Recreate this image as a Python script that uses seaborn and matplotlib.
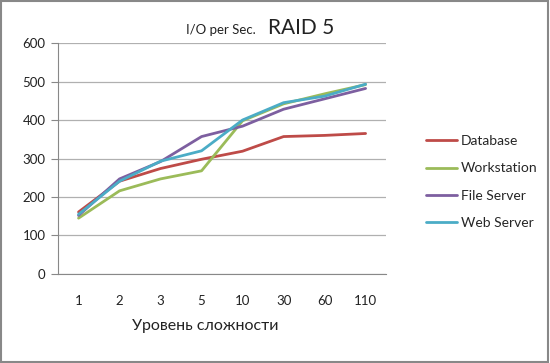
import matplotlib
matplotlib.use("Agg")
import matplotlib.pyplot as plt
import seaborn as sns
import pandas as pd
from matplotlib.lines import Line2D
from matplotlib.patches import Rectangle

levels = ["1", "2", "3", "5", "10", "30", "60", "110"]
database = [161, 241, 274, 298, 319, 357, 360, 365]
workstation = [145, 216, 247, 268, 398, 442, 468, 492]
file_server = [152, 247, 292, 357, 384, 428, 455, 482]
web_server = [155, 241, 293, 320, 400, 445, 462, 493]
series_names = ["Database", "Workstation", "File Server", "Web Server"]
colors = ["#BE4B48", "#9BBB59", "#7D5FA0", "#4BACC6"]

rows = []
for name, vals in zip(series_names, [database, workstation, file_server, web_server]):
    for i, (lv, v) in enumerate(zip(levels, vals)):
        rows.append({"pos": i, "level": lv, "value": v, "series": name})
df = pd.DataFrame(rows)

sns.set_style("white")
plt.rcParams["font.family"] = ["Lato", "DejaVu Sans"]

fig = plt.figure(figsize=(5.5, 3.63), dpi=100)
ax = fig.add_axes([0.1055, 0.2452, 0.5965, 0.6363])

sns.lineplot(data=df, x="pos", y="value", hue="series", hue_order=series_names,
             palette=colors, linewidth=2.0, ax=ax, legend=False, sort=False)

ax.set_xlim(-0.5, 7.5)
ax.set_ylim(0, 600)
ax.set_yticks(range(0, 601, 100))
ax.yaxis.grid(True, color="#B0B0B0", linewidth=0.9)
ax.set_axisbelow(True)
ax.set_xticks(range(len(levels)))
ax.set_xticklabels(levels)
ax.set_xticks([i - 0.5 for i in range(len(levels) + 1)], minor=True)
ax.tick_params(axis="x", which="major", length=0, pad=15, labelsize=9.5, colors="#222222")
ax.tick_params(axis="x", which="minor", length=5, width=0.8, color="#888888", direction="out")
ax.tick_params(axis="y", length=5, width=0.8, color="#888888", direction="out", left=True,
               labelsize=9.5, colors="#222222", pad=4)
for s in ["top", "right"]:
    ax.spines[s].set_visible(False)
ax.spines["left"].set_color("#888888")
ax.spines["bottom"].set_color("#888888")
ax.spines["left"].set_linewidth(0.8)
ax.spines["bottom"].set_linewidth(0.8)
ax.set_ylabel("")
ax.set_xlabel("Уровень сложности", fontsize=11.5, color="#222222")
ax.xaxis.set_label_coords(0.45, -0.193)

fig.text(0.338, 0.905, "I/O per Sec.", fontsize=9.5, color="#222222", ha="left", va="baseline")
fig.text(0.487, 0.905, "RAID 5", fontsize=15, color="#222222", ha="left", va="baseline")

handles = [Line2D([0], [0], color=c, lw=2.0) for c in colors]
fig.legend(handles, series_names, loc="upper left", bbox_to_anchor=(0.752, 0.662),
           frameon=False, fontsize=10, handlelength=2.2, handletextpad=0.3,
           labelspacing=1.1)

fig.patches.append(Rectangle((0.002, 0.003), 0.995, 0.993, transform=fig.transFigure,
                             fill=False, edgecolor="#888888", linewidth=1.5))

fig.savefig("out.png", dpi=100, facecolor="white")
